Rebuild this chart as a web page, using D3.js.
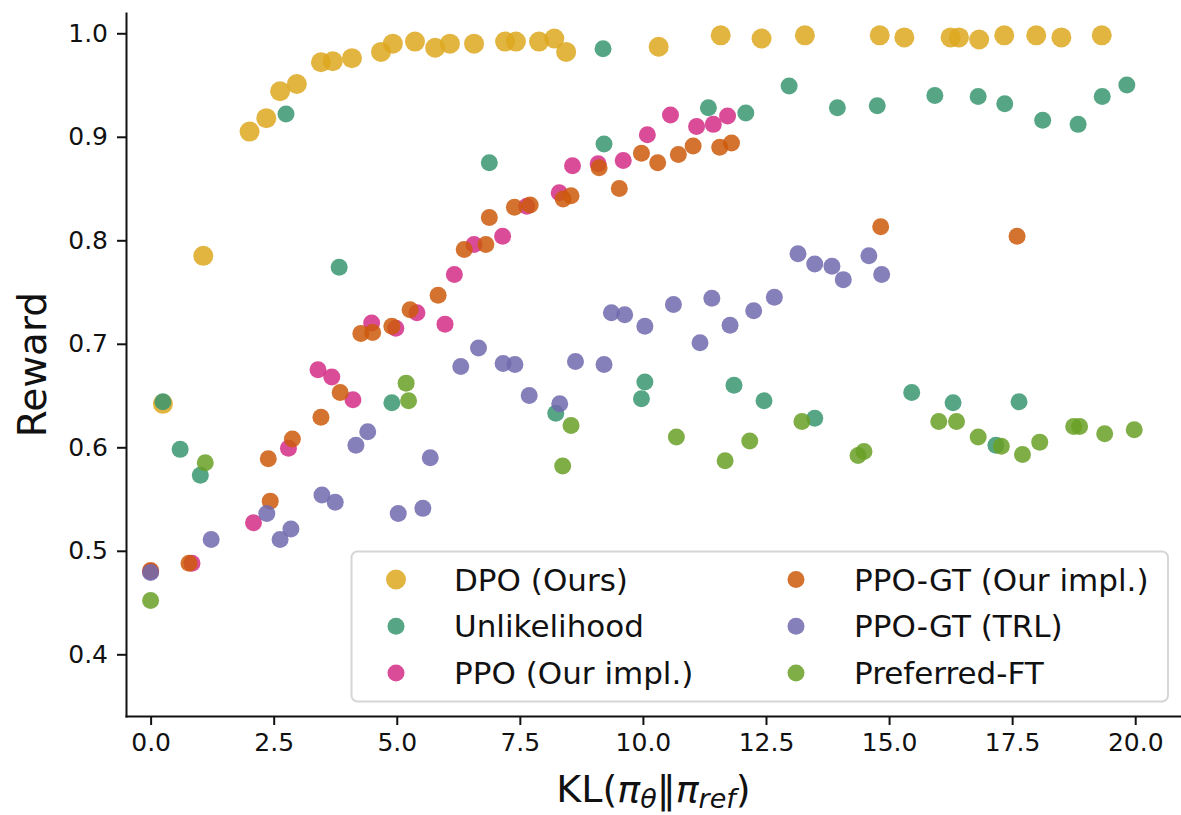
<!DOCTYPE html>
<meta charset="utf-8">
<style>
  body { margin: 0; background: #fff; }
  svg text { font-family: "DejaVu Sans", sans-serif; fill: #111; }
  .axis path, .axis line { stroke: #111; stroke-width: 2px; }
  .axis text { font-size: 25px; }
</style>
<body>
<svg id="chart" width="1181" height="815"></svg>
<script src="https://d3js.org/d3.v7.min.js"></script>
<script>
  // data: KL on x, reward on y
  var dpoKL = [0.25,1.07,2.01,2.35,2.63,2.97,3.46,3.70,4.09,4.68,4.92,5.37,5.78,6.08,6.57,7.20,7.42,7.89,8.20,8.44,10.32,11.58,12.41,13.29,14.81,15.31,16.25,16.42,16.83,17.34,17.99,18.50,19.32];
  var dpoReward = [0.642,0.785,0.905,0.918,0.944,0.951,0.972,0.973,0.976,0.982,0.990,0.992,0.986,0.990,0.990,0.992,0.992,0.992,0.995,0.982,0.987,0.998,0.995,0.998,0.998,0.996,0.996,0.996,0.994,0.998,0.998,0.996,0.998];

  var unlKL = [0.25,0.60,1.01,2.75,3.83,4.90,6.88,8.23,9.19,9.21,9.97,10.04,11.33,11.85,12.09,12.46,12.97,13.49,13.95,14.76,15.46,15.93,16.30,16.81,17.17,17.35,17.64,18.12,18.84,19.33,19.83];
  var unlReward = [0.644,0.598,0.573,0.922,0.774,0.643,0.875,0.633,0.985,0.893,0.647,0.663,0.928,0.660,0.923,0.645,0.949,0.628,0.928,0.930,0.653,0.940,0.643,0.939,0.602,0.932,0.644,0.916,0.912,0.939,0.950];

  var ppoKL = [0.0,0.84,2.09,2.80,3.40,3.68,4.11,4.49,4.98,5.41,5.98,6.17,6.57,7.15,7.64,8.30,8.57,9.09,9.60,10.09,10.56,11.09,11.43,11.72];
  var ppoReward = [0.480,0.488,0.527,0.599,0.675,0.668,0.646,0.720,0.715,0.730,0.719,0.767,0.796,0.804,0.833,0.846,0.872,0.874,0.877,0.902,0.921,0.910,0.912,0.920];

  var gtOursKL = [0.0,0.78,2.39,2.43,2.88,3.46,3.85,4.27,4.51,4.90,5.27,5.84,6.37,6.81,6.88,7.39,7.71,8.38,8.54,9.11,9.52,9.97,10.30,10.72,11.02,11.56,11.80,14.83,17.60];
  var gtOursReward = [0.481,0.488,0.589,0.548,0.608,0.629,0.653,0.710,0.711,0.717,0.733,0.747,0.791,0.796,0.822,0.832,0.834,0.840,0.843,0.870,0.850,0.884,0.875,0.883,0.891,0.890,0.894,0.813,0.804];

  var gtTrlKL = [0.0,1.23,2.36,2.63,2.85,3.48,3.75,4.17,4.41,5.03,5.53,5.68,6.30,6.66,7.16,7.40,7.69,8.31,8.63,9.21,9.36,9.63,10.04,10.62,11.16,11.40,11.77,12.25,12.67,13.15,13.49,13.84,14.07,14.59,14.85];
  var gtTrlReward = [0.479,0.511,0.536,0.511,0.521,0.554,0.547,0.602,0.615,0.536,0.541,0.590,0.678,0.696,0.681,0.680,0.650,0.642,0.683,0.680,0.730,0.728,0.717,0.738,0.701,0.744,0.718,0.732,0.745,0.787,0.777,0.775,0.762,0.785,0.767];

  var prefKL = [0.0,1.11,5.19,5.24,8.37,8.54,10.68,11.67,12.17,13.23,14.37,14.49,16.01,16.37,16.81,17.28,17.71,18.06,18.75,18.87,19.38,19.98];
  var prefReward = [0.452,0.585,0.662,0.645,0.582,0.621,0.610,0.587,0.606,0.625,0.592,0.596,0.625,0.625,0.610,0.601,0.593,0.605,0.620,0.620,0.613,0.617];

  var seriesNames = ['DPO (Ours)', 'Unlikelihood', 'PPO (Our impl.)', 'PPO-GT (Our impl.)', 'PPO-GT (TRL)', 'Preferred-FT'];
  var xTicks = [0, 2.5, 5, 7.5, 10, 12.5, 15, 17.5, 20];
  var yTicks = [0.4, 0.5, 0.6, 0.7, 0.8, 0.9, 1.0];

  var colors = ['#dda71f', '#389671', '#d42d86', '#cd590c', '#716aae', '#6aa026'];
  var radii = [10, 8.5, 8.5, 8.5, 8.5, 8.5];

  var series = [
    {kl: dpoKL, reward: dpoReward},
    {kl: unlKL, reward: unlReward},
    {kl: ppoKL, reward: ppoReward},
    {kl: gtOursKL, reward: gtOursReward},
    {kl: gtTrlKL, reward: gtTrlReward},
    {kl: prefKL, reward: prefReward}
  ];

  var plot = {left: 126, right: 1181, top: 13, bottom: 716};

  var svg = d3.select('#chart');

  var xScale = d3.scaleLinear().domain([-0.5, 20.93]).range([plot.left, plot.right]);
  var yScale = d3.scaleLinear().domain([0.3404, 1.0196]).range([plot.bottom, plot.top]);

  // points
  series.forEach(function(s, i) {
    var pts = s.kl.map(function(k, j) { return {x: k, y: s.reward[j]}; });
    svg.append('g')
      .selectAll('circle')
      .data(pts)
      .enter().append('circle')
        .attr('cx', function(d) { return xScale(d.x); })
        .attr('cy', function(d) { return yScale(d.y); })
        .attr('r', radii[i])
        .attr('fill', colors[i])
        .attr('fill-opacity', 0.85);
  });

  // axes (only left and bottom spines)
  svg.append('g')
    .attr('class', 'axis')
    .attr('transform', 'translate(0,' + plot.bottom + ')')
    .call(d3.axisBottom(xScale).tickValues(xTicks).tickFormat(d3.format('.1f')).tickSize(9).tickSizeOuter(0).tickPadding(8));

  svg.append('g')
    .attr('class', 'axis')
    .attr('transform', 'translate(' + plot.left + ',0)')
    .call(d3.axisLeft(yScale).tickValues(yTicks).tickFormat(d3.format('.1f')).tickSize(9).tickSizeOuter(0).tickPadding(9));

  svg.selectAll('.axis .domain').attr('stroke-linecap', 'square');

  // axis labels
  svg.append('text')
    .attr('transform', 'translate(46,' + ((plot.top + plot.bottom) / 2) + ') rotate(-90)')
    .attr('text-anchor', 'middle')
    .style('font-size', '39px')
    .text('Reward');

  var xl = svg.append('text')
    .attr('x', (plot.left + plot.right) / 2)
    .attr('y', 802)
    .attr('text-anchor', 'middle')
    .style('font-size', '38px');
  xl.append('tspan').text('KL(');
  xl.append('tspan').style('font-style', 'italic').text('π');
  xl.append('tspan').style('font-style', 'italic').style('font-size', '27px').attr('dy', 6).text('θ');
  xl.append('tspan').attr('dy', -6).text('‖');
  xl.append('tspan').style('font-style', 'italic').text('π');
  xl.append('tspan').style('font-style', 'italic').style('font-size', '27px').attr('dy', 6).text('ref');
  xl.append('tspan').attr('dy', -6).text(')');

  // legend
  var lg = svg.append('g');
  lg.append('rect')
    .attr('x', 351.5).attr('y', 551.5)
    .attr('width', 816.5).attr('height', 150)
    .attr('rx', 6)
    .attr('fill', '#fff').attr('fill-opacity', 0.8)
    .attr('stroke', '#d6d6d6').attr('stroke-width', 2);

  seriesNames.forEach(function(name, i) {
    var col = Math.floor(i / 3), row = i % 3;
    var mx = 396 + col * 400, my = 579.5 + row * 46.7;
    lg.append('circle')
      .attr('cx', mx).attr('cy', my)
      .attr('r', radii[i])
      .attr('fill', colors[i]).attr('fill-opacity', 0.85);
    lg.append('text')
      .attr('x', mx + 58).attr('y', my + 11)
      .style('font-size', '31px')
      .text(name);
  });
</script>
</body>
